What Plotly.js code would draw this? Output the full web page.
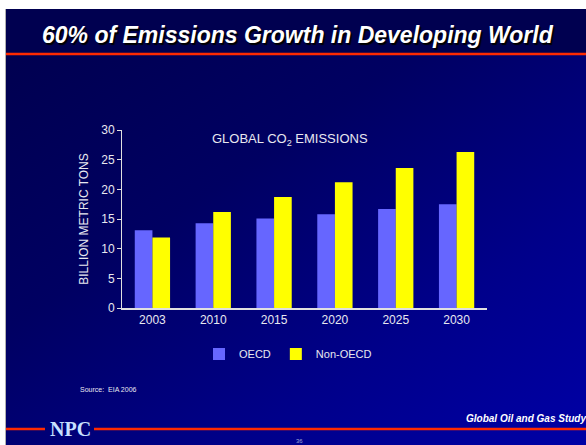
<!DOCTYPE html>
<html>
<head>
<meta charset="utf-8">
<script src="https://cdn.plot.ly/plotly-3.0.1.min.js"></script>
<style>
html,body{margin:0;padding:0;background:#fff;}
#wrap{position:relative;width:586px;height:445px;overflow:hidden;background:#fff;}
#band{position:absolute;left:6px;top:9px;width:580px;height:46px;background:#000050;}
#grad{position:absolute;left:6px;top:55px;width:580px;height:390px;background:linear-gradient(to bottom right,#000050 0%,#000062 35%,#00008a 70%,#0000a6 100%);}
#edge{position:absolute;left:5px;top:9px;width:1px;height:436px;background:#b0b0b0;}
#chart{position:absolute;left:0;top:0;width:586px;height:445px;}
</style>
</head>
<body>
<div id="wrap">
<div id="band"></div>
<div id="grad"></div>
<div id="edge"></div>
<div id="chart"></div>
</div>
<script>
const years = ["2003","2010","2015","2020","2025","2030"];
const oecd = [13.1, 14.3, 15.1, 15.8, 16.7, 17.5];
const nonOecd = [11.9, 16.2, 18.7, 21.2, 23.6, 26.3];
const yTicks = [0,5,10,15,20,25,30];

const W = 586, H = 445;
const L = 122, R = 487, T = 130, B = 308;
const px = x => (x - L) / (R - L);
const py = y => (B - y) / (B - T);
const txt = '#e8e8f0';

const data = [
  {type:'bar', name:'OECD', x:years, y:oecd, marker:{color:'#6666ff'}},
  {type:'bar', name:'Non-OECD', x:years, y:nonOecd, marker:{color:'#ffff00'}}
];

const layout = {
  width: W, height: H,
  margin:{l:L, r:W-R, t:T, b:H-B, pad:0},
  paper_bgcolor:'rgba(0,0,0,0)',
  plot_bgcolor:'rgba(0,0,0,0)',
  barmode:'group', bargap:0.42, bargroupgap:0,
  font:{family:'Liberation Sans, Arial, sans-serif', color:txt, size:12},
  xaxis:{type:'category', showline:true, linecolor:'#e0e0e0', linewidth:2, ticks:'', showgrid:false, zeroline:false, tickfont:{size:12,color:txt}},
  yaxis:{range:[0,30], tickvals:yTicks, showline:true, linecolor:'#e0e0e0', linewidth:1, ticks:'outside', ticklen:4, tickcolor:'#e0e0e0', showgrid:false, zeroline:false, tickfont:{size:12,color:txt},
         title:{text:'BILLION METRIC TONS', font:{size:12,color:txt}, standoff:10}},
  showlegend:true,
  legend:{orientation:'h', x:px(199), xanchor:'left', y:py(354), yanchor:'middle', font:{size:11,color:txt}, bgcolor:'rgba(0,0,0,0)', itemwidth:30, tracegroupgap:0},
  shapes:[
    {type:'line', xref:'paper', yref:'paper', x0:px(6), x1:px(586), y0:py(54), y1:py(54), line:{color:'#ff2a00', width:2.5}},
    {type:'line', xref:'paper', yref:'paper', x0:px(6), x1:px(45), y0:py(429), y1:py(429), line:{color:'#ff2a00', width:2.5}},
    {type:'line', xref:'paper', yref:'paper', x0:px(94), x1:px(586), y0:py(429), y1:py(429), line:{color:'#ff2a00', width:2.5}}
  ],
  annotations:[
    {xref:'paper', yref:'paper', x:px(298), y:py(35), xanchor:'center', yanchor:'middle', showarrow:false,
     text:'<b><i>60% of Emissions Growth in Developing World</i></b>', font:{size:23, color:'#ffffff', shadow:'1.5px 1.5px 1px #000000'}},
    {xref:'paper', yref:'paper', x:px(290), y:py(139), xanchor:'center', yanchor:'middle', showarrow:false,
     text:'GLOBAL CO<sub>2</sub> EMISSIONS', font:{size:13, color:txt}},
    {xref:'paper', yref:'paper', x:px(78), y:py(389), xanchor:'left', yanchor:'middle', showarrow:false,
     text:'Source:  EIA 2006', font:{size:7, color:txt}},
    {xref:'paper', yref:'paper', x:px(588), y:py(418), xanchor:'right', yanchor:'middle', showarrow:false,
     text:'<b><i>Global Oil and Gas Study</i></b>', font:{size:10, color:'#ffffff'}},
    {xref:'paper', yref:'paper', x:px(70), y:py(429), xanchor:'center', yanchor:'middle', showarrow:false,
     text:'<b>NPC</b>', font:{size:20, color:'#c8e0ff', family:'Liberation Serif, Times New Roman, serif'}},
    {xref:'paper', yref:'paper', x:px(299), y:py(441), xanchor:'center', yanchor:'middle', showarrow:false,
     text:'36', font:{size:6, color:'#a0a8d8'}}
  ]
};

Plotly.newPlot('chart', data, layout, {displayModeBar:false, staticPlot:true});
</script>
</body>
</html>
